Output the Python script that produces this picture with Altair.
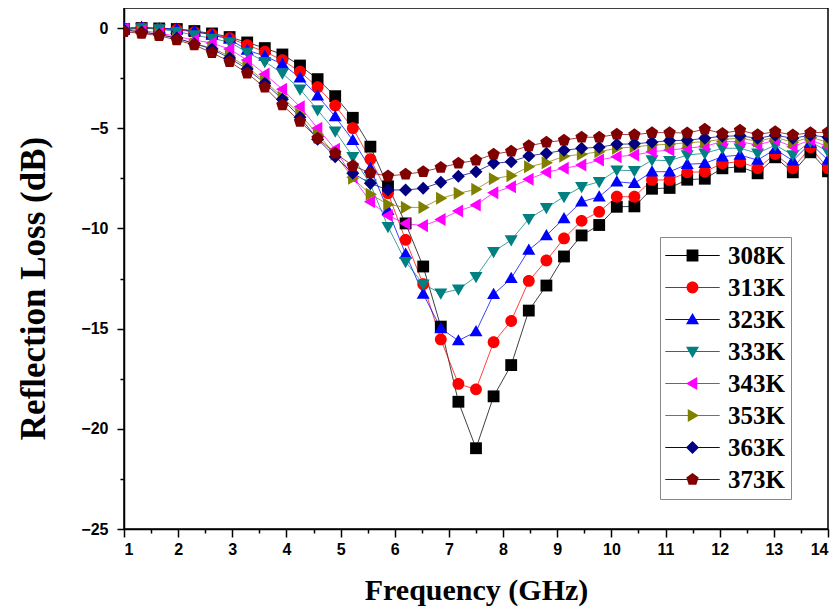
import altair as alt
import pandas as pd

# Frequency sample points (GHz)
freq = [1.0, 1.325, 1.65, 1.975, 2.3, 2.625, 2.95, 3.275, 3.6, 3.925, 4.25,
        4.575, 4.9, 5.225, 5.55, 5.875, 6.2, 6.525, 6.85, 7.175, 7.5,
        7.825, 8.15, 8.475, 8.8, 9.125, 9.45, 9.775, 10.1, 10.425, 10.75,
        11.075, 11.4, 11.725, 12.05, 12.375, 12.7, 13.025, 13.35, 13.675, 14.0]

rl_308 = [-0.05, 0.0, -0.02, -0.05, -0.15, -0.27, -0.45, -0.72, -1.0, -1.32, -1.87,
          -2.55, -3.4, -4.48, -5.92, -7.9, -9.75, -11.9, -14.9, -18.65, -20.97,
          -18.38, -16.82, -14.1, -12.85, -11.4, -10.35, -9.83, -8.92, -8.9, -8.02,
          -7.98, -7.57, -7.52, -7.0, -6.92, -7.25, -6.45, -7.2, -6.2, -7.15]
rl_313 = [-0.05, 0.0, -0.05, -0.08, -0.2, -0.32, -0.5, -0.85, -1.18, -1.6, -2.18,
          -2.95, -3.87, -5.0, -6.55, -8.25, -10.57, -12.78, -15.54, -17.76, -18.03,
          -15.68, -14.62, -12.62, -11.6, -10.5, -9.62, -9.17, -8.42, -8.42, -7.58,
          -7.58, -7.2, -7.17, -6.75, -6.67, -7.0, -6.29, -7.0, -5.95, -7.0]
rl_323 = [0.0, 0.05, -0.02, -0.05, -0.15, -0.35, -0.55, -1.1, -1.4, -1.8, -2.48,
          -3.38, -4.42, -5.6, -7.0, -9.1, -11.28, -13.27, -14.99, -15.6, -15.15,
          -13.29, -12.49, -11.08, -10.35, -9.5, -8.67, -8.42, -7.67, -7.75, -7.17,
          -7.17, -6.8, -6.75, -6.42, -6.34, -6.59, -6.05, -6.62, -5.75, -6.59]
rl_333 = [-0.05, 0.0, -0.05, -0.18, -0.35, -0.52, -0.7, -1.21, -1.68, -2.26, -3.05,
          -4.09, -5.15, -6.42, -7.8, -9.91, -11.66, -12.78, -13.24, -13.04, -12.41,
          -11.16, -10.58, -9.52, -8.97, -8.42, -7.92, -7.67, -7.09, -7.12, -6.59,
          -6.62, -6.34, -6.25, -6.0, -6.0, -6.25, -5.84, -6.34, -5.67, -6.17]
rl_343 = [-0.05, -0.12, -0.25, -0.42, -0.6, -0.75, -1.05, -1.6, -2.3, -3.06, -3.93,
          -5.0, -6.05, -7.45, -8.67, -9.35, -9.76, -9.86, -9.55, -9.13, -8.83,
          -8.22, -7.92, -7.55, -7.2, -7.0, -6.84, -6.59, -6.42, -6.34, -6.17,
          -6.09, -6.0, -5.9, -5.67, -5.67, -5.84, -5.59, -5.92, -5.59, -5.92]
rl_353 = [-0.08, -0.2, -0.32, -0.52, -0.78, -1.0, -1.4, -1.95, -2.65, -3.45, -4.3,
          -5.3, -6.3, -7.5, -8.3, -8.8, -8.95, -8.95, -8.5, -8.25, -8.05,
          -7.52, -7.37, -6.92, -6.72, -6.4, -6.3, -6.17, -6.0, -5.93, -5.84,
          -5.8, -5.72, -5.67, -5.55, -5.5, -5.65, -5.45, -5.7, -5.45, -5.7]
rl_363 = [-0.1, -0.2, -0.32, -0.5, -0.78, -1.05, -1.5, -2.05, -2.75, -3.55, -4.45,
          -5.55, -6.42, -7.25, -7.75, -8.08, -8.08, -8.0, -7.7, -7.4, -7.17,
          -6.75, -6.67, -6.38, -6.25, -6.1, -6.0, -5.95, -5.8, -5.78, -5.7,
          -5.62, -5.6, -5.5, -5.4, -5.38, -5.5, -5.35, -5.5, -5.35, -5.45]
rl_373 = [-0.18, -0.27, -0.38, -0.6, -0.85, -1.23, -1.68, -2.26, -2.96, -3.84, -4.66,
          -5.5, -6.25, -6.87, -7.23, -7.38, -7.3, -7.17, -6.96, -6.75, -6.6,
          -6.3, -6.15, -5.88, -5.7, -5.6, -5.45, -5.45, -5.3, -5.33, -5.22,
          -5.22, -5.24, -5.05, -5.26, -5.1, -5.32, -5.17, -5.34, -5.22, -5.2]

series_names = ["308K", "313K", "323K", "333K", "343K", "353K", "363K", "373K"]
series_values = [rl_308, rl_313, rl_323, rl_333, rl_343, rl_353, rl_363, rl_373]
series_colors = ["#000000", "#FF0000", "#0000FF", "#008080",
                 "#FF00FF", "#808000", "#000080", "#800000"]

x_ticks = list(range(1, 15))
x_minor = [v + 0.5 for v in range(1, 14)]
y_ticks = [0, -5, -10, -15, -20, -25]
y_minor = [-2.5, -7.5, -12.5, -17.5, -22.5]

# marker outlines (unit box -1..1)
marker_paths = [
    "M-1,-1H1V1H-1Z",                                   # square
    "M1,0A1,1,0,1,1,-1,0A1,1,0,1,1,1,0Z",               # circle
    "M0,-1.1L1.1,0.8L-1.1,0.8Z",                        # triangle up
    "M0,1.1L-1.1,-0.8L1.1,-0.8Z",                       # triangle down
    "M-1.1,0L0.8,-1.1L0.8,1.1Z",                        # triangle left
    "M1.1,0L-0.8,1.1L-0.8,-1.1Z",                       # triangle right
    "M0,-1.1L1.1,0L0,1.1L-1.1,0Z",                      # diamond
    "M0,-1.1L1.046,-0.34L0.647,0.89L-0.647,0.89L-1.046,-0.34Z",  # pentagon
]
legend_line = "M-4.6,-0.07H4.6V0.07H-4.6Z"
legend_paths = [legend_line + p for p in marker_paths]

rows = []
for k, (name, vals) in enumerate(zip(series_names, series_values)):
    for f, v in zip(freq, vals):
        rows.append({"freq": f, "rl": v, "series": name, "legend_series": name, "order": k})
df = pd.DataFrame(rows)

xscale = alt.Scale(domain=[1, 14], nice=False, zero=False)
yscale = alt.Scale(domain=[-25, 1], nice=False, zero=False)

base = alt.Chart(df)

lines = base.mark_line(strokeWidth=1, opacity=0.75, clip=True).encode(
    x=alt.X("freq:Q", scale=xscale,
            axis=alt.Axis(orient="bottom", values=x_ticks, format="d",
                          title="Frequency (GHz)", tickSize=8, labelPadding=4,
                          labelFont="Liberation Sans", labelFontWeight="bold",
                          labelFontSize=16, titleFont="Liberation Serif",
                          titleFontWeight="bold", titleFontSize=30,
                          titleX=352, titleY=61, titleBaseline="middle")),
    y=alt.Y("rl:Q", scale=yscale,
            axis=alt.Axis(orient="left", values=y_ticks, format="d",
                          title="Reflection Loss (dB)", tickSize=7, labelPadding=9,
                          labelFont="Liberation Sans", labelFontWeight="bold",
                          labelFontSize=16, titleFont="Liberation Serif",
                          titleFontWeight="bold", titleFontSize=35,
                          titleX=-91, titleY=280, titleBaseline="middle",
                          titleAngle=270)),
    color=alt.Color("series:N", scale=alt.Scale(domain=series_names, range=series_colors),
                    legend=None),
    detail="series:N",
)

points = base.mark_point(filled=True, size=140, opacity=1, clip=True).encode(
    x=alt.X("freq:Q", scale=xscale, axis=None),
    y=alt.Y("rl:Q", scale=yscale, axis=None),
    color=alt.Color("series:N", scale=alt.Scale(domain=series_names, range=series_colors),
                    legend=None),
    shape=alt.Shape("series:N", scale=alt.Scale(domain=series_names, range=marker_paths),
                    legend=None),
    order=alt.Order("order:Q"),
)

legend_props = dict(
    orient="none", legendX=536, legendY=229, title=None,
    labelFont="Liberation Serif", labelFontWeight="bold", labelFontSize=25,
    labelColor="black", strokeColor="#888888", fillColor="white", padding=6,
    rowPadding=6, symbolSize=140, symbolOffset=14, labelOffset=23,
    symbolStrokeWidth=0, symbolOpacity=1,
)

legend_layer = base.mark_point(filled=True, size=140, opacity=0, clip=True).encode(
    x=alt.X("freq:Q", scale=xscale, axis=None),
    y=alt.Y("rl:Q", scale=yscale, axis=None),
    color=alt.Color("legend_series:N",
                    scale=alt.Scale(domain=series_names, range=series_colors),
                    legend=alt.Legend(**legend_props)),
    shape=alt.Shape("legend_series:N",
                    scale=alt.Scale(domain=series_names, range=legend_paths),
                    legend=alt.Legend(**legend_props)),
)

minor = base.mark_point(opacity=0).encode(
    x=alt.X("freq:Q", scale=xscale,
            axis=alt.Axis(orient="bottom", values=x_minor, labels=False, domain=False,
                          tickSize=4, title=None)),
    y=alt.Y("rl:Q", scale=yscale,
            axis=alt.Axis(orient="left", values=y_minor, labels=False, domain=False,
                          tickSize=4, title=None)),
)

chart = alt.layer(lines, points, legend_layer, minor).resolve_scale(
    color="independent", shape="independent"
).resolve_axis(
    x="independent", y="independent"
).properties(
    width=704, height=521,
    autosize=alt.AutoSizeParams(type="none"),
    padding={"left": 116, "top": 0, "right": 4, "bottom": 78},
    background="white",
).configure_view(
    stroke="black", strokeWidth=1.5
).configure_axis(
    grid=False, domainColor="black", domainWidth=1.5, tickColor="black",
    tickWidth=1.5, labelColor="black", titleColor="black"
).configure_legend(
    strokeWidth=1
)

chart.save("out.html", embed_options={"renderer": "svg", "actions": False})
